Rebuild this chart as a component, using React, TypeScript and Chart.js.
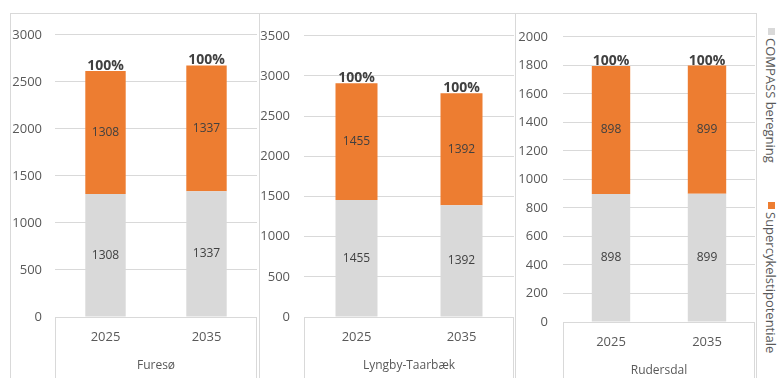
import React, { useEffect, useRef } from "react";
import { Chart, registerables } from "chart.js";

Chart.register(...registerables);

const YEARS = ["2025", "2035"];
const FURESO_COMPASS = [1308, 1337];
const FURESO_SUPER = [1308, 1337];
const LYNGBY_COMPASS = [1455, 1392];
const LYNGBY_SUPER = [1455, 1392];
const RUDERSDAL_COMPASS = [898, 899];
const RUDERSDAL_SUPER = [898, 899];
const TOTAL_LABELS = ["100%", "100%"];
const SERIES_NAMES = ["COMPASS beregning", "Supercykelstipotentiale"];
const MUNICIPALITIES = ["Furesø", "Lyngby-Taarbæk", "Rudersdal"];

const GRAY = "#d9d9d9";
const ORANGE = "#ed7d31";
const TEXT = "#595959";
const DARK = "#404040";
const FONT = '"Open Sans", sans-serif';

const valueLabels = {
  id: "valueLabels",
  afterDatasetsDraw(chart: any) {
    const ctx = chart.ctx;
    ctx.save();
    ctx.textAlign = "center";
    ctx.textBaseline = "middle";
    ctx.font = `12px ${FONT}`;
    ctx.fillStyle = DARK;
    chart.data.datasets.forEach((ds: any, i: number) => {
      const meta = chart.getDatasetMeta(i);
      meta.data.forEach((bar: any, j: number) => {
        const p = bar.getProps(["x", "y", "base"], true);
        ctx.fillText(String(ds.data[j]), p.x, (p.y + p.base) / 2);
      });
    });
    const last = chart.getDatasetMeta(chart.data.datasets.length - 1);
    ctx.font = `bold 14px ${FONT}`;
    ctx.textBaseline = "bottom";
    last.data.forEach((bar: any, j: number) => {
      ctx.fillText(TOTAL_LABELS[j], bar.x, bar.y + 2);
    });
    ctx.restore();
  },
};

const categoryBox = {
  id: "categoryBox",
  afterDraw(chart: any) {
    const { ctx, chartArea, height } = chart;
    ctx.save();
    ctx.strokeStyle = GRAY;
    ctx.lineWidth = 1;
    ctx.beginPath();
    const l = Math.round(chartArea.left) + 0.5;
    const r = Math.round(chartArea.right) - 0.5;
    const b = Math.round(chartArea.bottom);
    ctx.moveTo(l, b);
    ctx.lineTo(l, height);
    ctx.moveTo(r, b);
    ctx.lineTo(r, height);
    ctx.stroke();
    ctx.restore();
  },
};

type PanelProps = {
  compass: number[];
  superData: number[];
  title: string;
  max: number;
  step: number;
  left: number;
  width: number;
  yAxisWidth: number;
  tickPad: number;
  padTop: number;
  xAxisHeight: number;
  titlePadBottom: number;
};

function Panel(props: PanelProps) {
  const ref = useRef<HTMLCanvasElement>(null);
  useEffect(() => {
    const chart = new Chart(ref.current as HTMLCanvasElement, {
      type: "bar",
      data: {
        labels: YEARS,
        datasets: [
          {
            label: SERIES_NAMES[0],
            data: props.compass,
            backgroundColor: GRAY,
            stack: "s",
            categoryPercentage: 1,
            barPercentage: 0.4,
          },
          {
            label: SERIES_NAMES[1],
            data: props.superData,
            backgroundColor: ORANGE,
            stack: "s",
            categoryPercentage: 1,
            barPercentage: 0.4,
          },
        ],
      },
      options: {
        animation: false,
        responsive: false,
        maintainAspectRatio: false,
        layout: { padding: { top: props.padTop, right: 1, left: 0, bottom: 0 } },
        plugins: { legend: { display: false }, tooltip: { enabled: false } },
        scales: {
          x: {
            stacked: true,
            grid: { display: false, drawTicks: false },
            border: { display: false },
            ticks: { color: TEXT, font: { family: FONT, size: 13 }, padding: 12 },
            title: {
              display: true,
              text: props.title,
              color: TEXT,
              font: { family: FONT, size: 12 },
              padding: { top: 0, bottom: props.titlePadBottom },
            },
            afterFit: (s: any) => {
              s.height = props.xAxisHeight;
            },
          },
          y: {
            stacked: true,
            min: 0,
            max: props.max,
            ticks: {
              stepSize: props.step,
              color: TEXT,
              font: { family: FONT, size: 13 },
              padding: props.tickPad,
              callback: (v: any) => String(v),
            },
            grid: { color: GRAY, drawTicks: false },
            border: { display: false },
            afterFit: (s: any) => {
              s.width = props.yAxisWidth;
            },
          },
        },
      } as any,
      plugins: [valueLabels, categoryBox],
    });
    return () => chart.destroy();
  }, []);
  return (
    <canvas
      ref={ref}
      width={props.width}
      height={364}
      style={{ position: "absolute", left: props.left, top: 14, width: props.width, height: 364 }}
    />
  );
}

function LegendItem({ top, color, text }: { top: number; color: string; text: string }) {
  return (
    <div
      style={{
        position: "absolute",
        left: 764,
        top,
        writingMode: "vertical-rl",
        font: `13px ${FONT}`,
        color: TEXT,
        whiteSpace: "nowrap",
        lineHeight: "14px",
      }}
    >
      <span
        style={{
          display: "inline-block",
          width: 7,
          height: 7,
          background: color,
          marginBottom: 3,
        }}
      />
      {text}
    </div>
  );
}

export default function App() {
  const border = `1px solid ${GRAY}`;
  return (
    <div
      style={{
        position: "fixed",
        left: 0,
        top: 0,
        width: 777,
        height: 378,
        background: "#fff",
        overflow: "hidden",
      }}
    >
      <div style={{ position: "absolute", left: 10, top: 13, width: 248, height: 400, borderLeft: border, borderTop: border, borderRight: border }} />
      <div style={{ position: "absolute", left: 259, top: 13, width: 256, height: 400, borderTop: border, borderRight: border }} />
      <div style={{ position: "absolute", left: 516, top: 13, width: 240, height: 400, borderTop: border, borderRight: border }} />
      <Panel
        compass={FURESO_COMPASS}
        superData={FURESO_SUPER}
        title={MUNICIPALITIES[0]}
        max={3000}
        step={500}
        left={11}
        width={247}
        yAxisWidth={44}
        tickPad={13}
        padTop={13}
        xAxisHeight={61}
        titlePadBottom={5}
      />
      <Panel
        compass={LYNGBY_COMPASS}
        superData={LYNGBY_SUPER}
        title={MUNICIPALITIES[1]}
        max={3500}
        step={500}
        left={260}
        width={255}
        yAxisWidth={44}
        tickPad={14}
        padTop={14}
        xAxisHeight={61}
        titlePadBottom={5}
      />
      <Panel
        compass={RUDERSDAL_COMPASS}
        superData={RUDERSDAL_SUPER}
        title={MUNICIPALITIES[2]}
        max={2000}
        step={200}
        left={517}
        width={239}
        yAxisWidth={46}
        tickPad={15}
        padTop={19}
        xAxisHeight={56}
        titlePadBottom={0}
      />
      <LegendItem top={28} color={GRAY} text={SERIES_NAMES[0]} />
      <LegendItem top={202} color={ORANGE} text={SERIES_NAMES[1]} />
    </div>
  );
}
